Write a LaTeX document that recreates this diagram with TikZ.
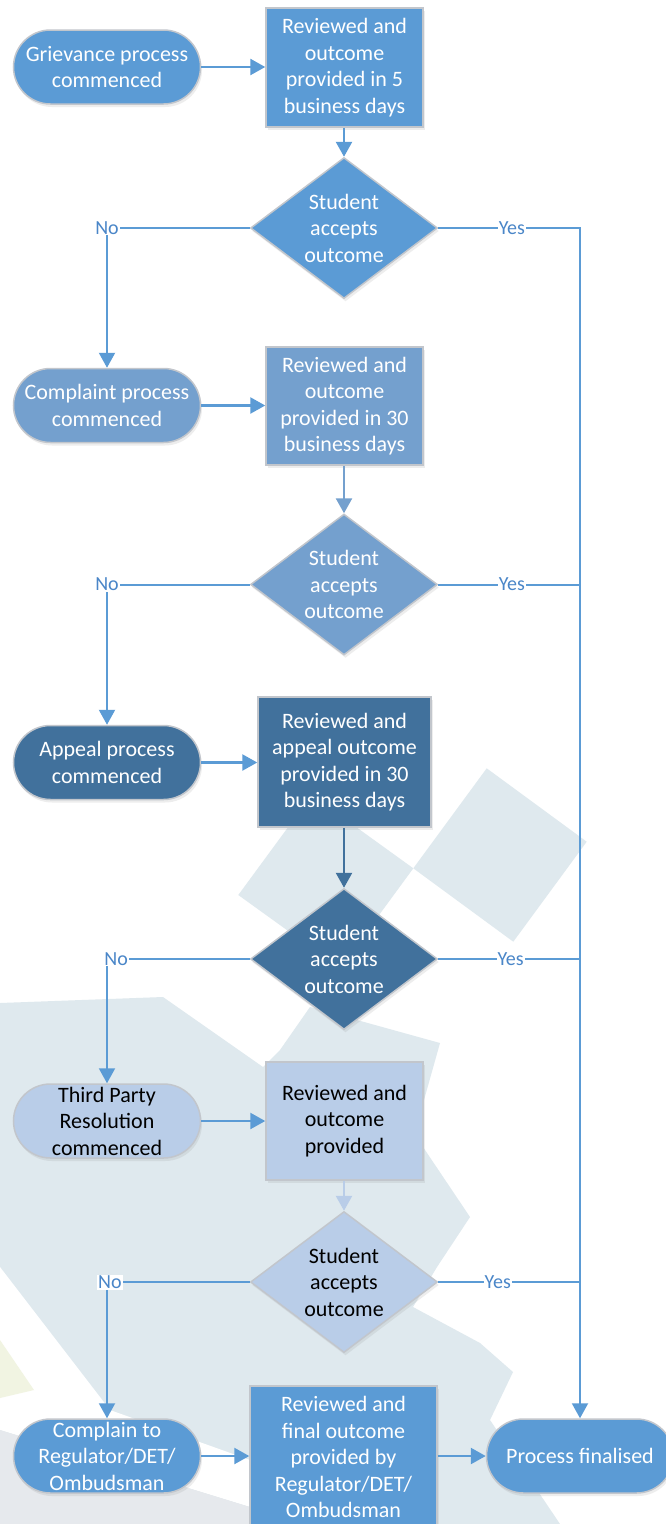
\documentclass[tikz,border=0pt]{standalone}
\usepackage{fontspec}
\setmainfont{Carlito}
\usetikzlibrary{shapes.geometric,arrows.meta,shadows}

\definecolor{bA}{HTML}{5B9BD5}
\definecolor{bB}{HTML}{74A0CE}
\definecolor{bC}{HTML}{41719C}
\definecolor{bD}{HTML}{B9CDE8}
\definecolor{edgec}{HTML}{C2C6CC}
\definecolor{wm}{HTML}{DFE9EE}
\definecolor{wmgrey}{HTML}{E6E9ED}
\definecolor{wmyel}{HTML}{F1F4E2}
\definecolor{lblc}{HTML}{4A86C8}

\begin{document}
\begin{tikzpicture}[x=1pt,y=-1pt,
  txt/.style={font=\fontsize{22}{26.5}\selectfont, align=center, text=white},
  shad/.style={drop shadow={shadow xshift=1.5pt, shadow yshift=-3pt, opacity=0.14}},
  term/.style={txt, shad, draw=edgec, line width=1.5pt, rounded corners=37pt,
    minimum width=187pt, minimum height=74pt, inner sep=0pt},
  boxn/.style={txt, shad, draw=edgec, line width=1.5pt, rectangle, inner sep=0pt},
  dec/.style={txt, shad, draw=edgec, line width=1.5pt, shape=diamond, aspect=1.33,
    minimum width=187pt, minimum height=141pt, inner sep=0pt},
  arr/.style={line width=2.5pt, -{Triangle[length=15pt,width=16pt]}},
  conn/.style={line width=2pt, draw=bA},
  connarr/.style={conn, -{Triangle[length=15pt,width=16pt]}},
  lbl/.style={font=\fontsize{20}{20}\selectfont, text=lblc, fill=white, inner sep=1pt}
]
\useasboundingbox (0,0) rectangle (665,1524);
\fill[white] (0,0) rectangle (665,1524);

% watermark background
\fill[wm] (486.7,768.3) -- (586.7,841.7) -- (513.3,941.7) -- (413.3,868.3) -- cycle;
\fill[wm] (311.7,795) -- (413.3,868.3) -- (340,968.3) -- (238.3,895) -- cycle;
\fill[wm] (0,1003) -- (163,997) -- (263,1067) -- (280,1050) -- (310,1007) -- (440,1043)
  -- (424,1100) -- (423,1147) -- (470,1217) -- (437,1267) -- (413,1307) -- (480,1343)
  -- (513,1372) -- (490,1420) -- (560,1524) -- (0,1524) -- cycle;
\fill[white] (0,1267) -- (110,1410) -- (250,1460) -- (250,1507) -- (0,1430) -- cycle;
\fill[wmyel] (0,1340) -- (34,1390) -- (0,1398) -- cycle;
\fill[wmgrey] (0,1430) -- (250,1507) -- (330,1524) -- (0,1524) -- cycle;

% row 1
\node[term, fill=bA] (t1) at (107,67) {Grievance process\\commenced};
\node[boxn, fill=bA, minimum width=157pt, minimum height=119pt] (b1) at (344.5,67.5)
  {Reviewed and\\outcome\\provided in 5\\business days};
\node[dec, fill=bA] (d1) at (344,228) {Student\\accepts\\outcome};
% row 2
\node[term, fill=bB] (t2) at (107,405.5) {Complaint process\\commenced};
\node[boxn, fill=bB, minimum width=157pt, minimum height=118pt] (b2) at (344.5,406)
  {Reviewed and\\outcome\\provided in 30\\business days};
\node[dec, fill=bB] (d2) at (344,584.5) {Student\\accepts\\outcome};
% row 3
\node[term, fill=bC] (t3) at (107,762.5) {Appeal process\\commenced};
\node[boxn, fill=bC, minimum width=173pt, minimum height=130pt] (b3) at (344.5,762)
  {Reviewed and\\appeal outcome\\provided in 30\\business days};
\node[dec, fill=bC] (d3) at (344,959) {Student\\accepts\\outcome};
% row 4
\node[term, fill=bD, text=black] (t4) at (107,1121) {Third Party\\Resolution\\commenced};
\node[boxn, fill=bD, text=black, minimum width=157pt, minimum height=118pt] (b4) at (344.5,1121)
  {Reviewed and\\outcome\\provided};
\node[dec, fill=bD, text=black] (d4) at (344,1282) {Student\\accepts\\outcome};
% row 5
\node[term, fill=bA] (t5) at (107,1456) {Complain to\\Regulator/DET/\\Ombudsman};
\node[boxn, fill=bA, minimum width=187pt, minimum height=142pt] (b5) at (343.5,1457)
  {Reviewed and\\final outcome\\provided by\\Regulator/DET/\\Ombudsman};
\node[term, fill=bA] (fin) at (580,1456) {Process finalised};

% horizontal arrows
\draw[arr, draw=bA] (t1.east) -- (t1.east -| b1.west);
\draw[arr, draw=bA] (t2.east) -- (t2.east -| b2.west);
\draw[arr, draw=bA] (t3.east) -- (t3.east -| b3.west);
\draw[arr, draw=bA] (t4.east) -- (t4.east -| b4.west);
\draw[arr, draw=bA] (t5.east) -- (t5.east -| b5.west);
\draw[arr, draw=bA] (b5.east |- fin.west) -- (fin.west);
% vertical arrows
\draw[arr, draw=bA] (d1.north |- b1.south) -- (d1.north);
\draw[arr, draw=bB] (d2.north |- b2.south) -- (d2.north);
\draw[arr, draw=bC] (d3.north |- b3.south) -- (d3.north);
\draw[arr, draw=bD] (d4.north |- b4.south) -- (d4.north);

% No branches
\draw[connarr] (d1.west) -| node[lbl, pos=0.5] {No} (t2.north);
\draw[connarr] (d2.west) -| node[lbl, pos=0.5] {No} (t3.north);
\draw[connarr] (d3.west) -| node[lbl, pos=0.468] {No} (t4.north);
\draw[connarr] (d4.west) -| node[lbl, pos=0.49] {No} (t5.north);

% Yes branches
\draw[connarr] (d1.east) -- node[lbl, pos=0.52] {Yes} (d1.east -| fin.north) -- (fin.north);
\draw[conn] (d2.east) -- node[lbl, pos=0.52] {Yes} (d2.east -| fin.north);
\draw[conn] (d3.east) -- node[lbl, pos=0.51] {Yes} (d3.east -| fin.north);
\draw[conn] (d4.east) -- node[lbl, pos=0.42] {Yes} (d4.east -| fin.north);
\end{tikzpicture}
\end{document}
